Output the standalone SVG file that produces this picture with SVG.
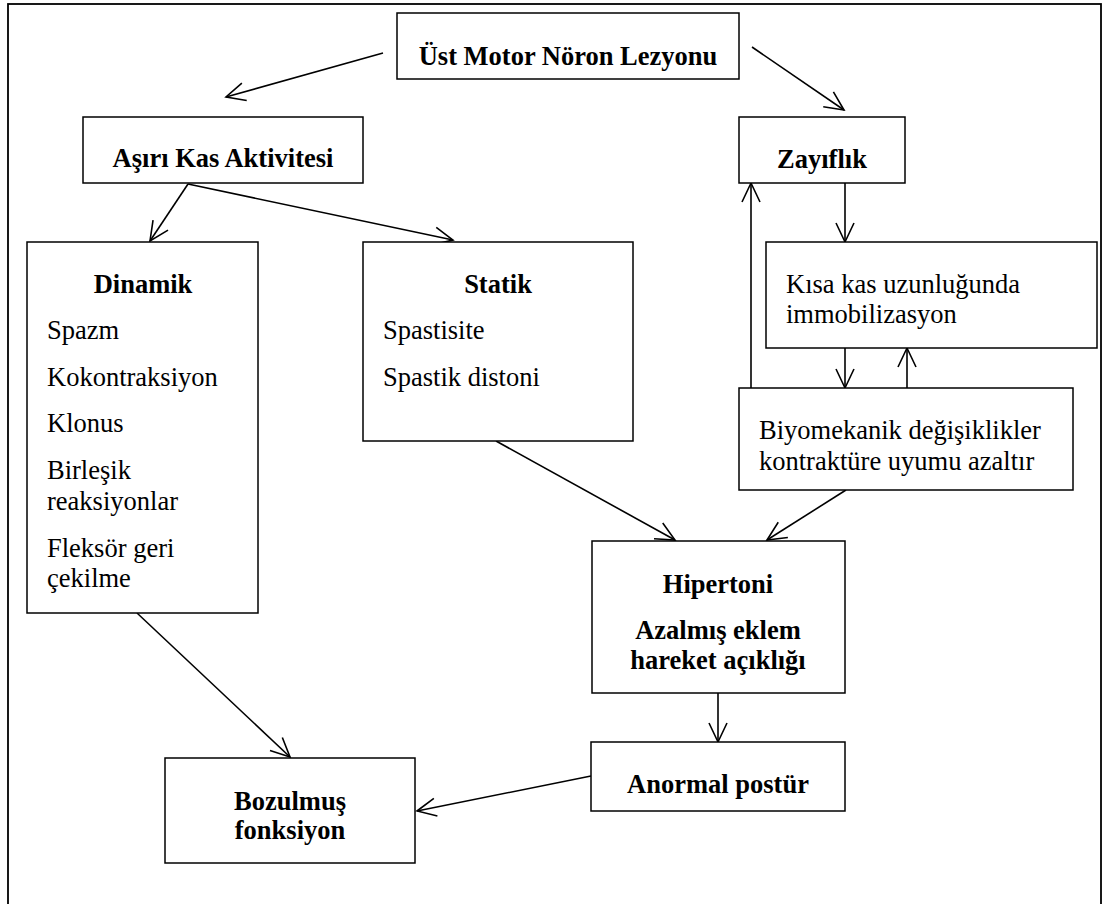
<svg xmlns="http://www.w3.org/2000/svg" width="1105" height="904" viewBox="0 0 1105 904">
<style>
.box{fill:#fff;stroke:#000;stroke-width:1.5}
.b{font-family:'Liberation Serif',serif;font-weight:bold;font-size:26.5px;text-anchor:middle;fill:#000}
.r{font-family:'Liberation Serif',serif;font-size:26.5px;fill:#000}
.c line{stroke:#000;stroke-width:1.6;marker-end:url(#ah)}
</style>
<defs>
<marker id="ah" markerUnits="userSpaceOnUse" markerWidth="24" markerHeight="24" viewBox="-22 -12 24 24" refX="0" refY="0" orient="auto" overflow="visible">
<path d="M-19,-9 L0,0 L-19,9" fill="none" stroke="#000" stroke-width="1.6"/>
</marker>
</defs>
<rect x="8" y="4" width="1093" height="920" fill="#fff" stroke="#000" stroke-width="1.8"/>
<g class="c">
<line x1="383" y1="53" x2="226" y2="97"/>
<line x1="752" y1="47" x2="844" y2="110"/>
<line x1="188" y1="184" x2="150" y2="241"/>
<line x1="188" y1="184" x2="453" y2="240"/>
<line x1="845" y1="183" x2="845" y2="242"/>
<line x1="751" y1="388" x2="751" y2="183"/>
<line x1="845" y1="348" x2="845" y2="388"/>
<line x1="907" y1="388" x2="907" y2="348"/>
<line x1="496" y1="441" x2="675" y2="540"/>
<line x1="846" y1="490" x2="767" y2="540"/>
<line x1="137" y1="613" x2="290" y2="757"/>
<line x1="718" y1="693" x2="718" y2="742"/>
<line x1="591" y1="776" x2="417" y2="811"/>
</g>
<g id="ust">
<rect class="box" x="397" y="13" width="342" height="66"/>
<text class="b" font-family="Liberation Serif" x="568" y="65">Üst Motor Nöron Lezyonu</text>
</g>
<g id="asiri">
<rect class="box" x="83" y="117" width="280" height="66"/>
<text class="b" font-family="Liberation Serif" x="223" y="167">Aşırı Kas Aktivitesi</text>
</g>
<g id="zayiflik">
<rect class="box" x="739" y="117" width="166" height="66"/>
<text class="b" font-family="Liberation Serif" x="822" y="168">Zayıflık</text>
</g>
<g id="kisa">
<rect class="box" x="766" y="242" width="331" height="106"/>
<text class="r" font-family="Liberation Serif" x="786" y="293">Kısa kas uzunluğunda</text>
<text class="r" font-family="Liberation Serif" x="786" y="323">immobilizasyon</text>
</g>
<g id="biyomekanik">
<rect class="box" x="739" y="388" width="334" height="102"/>
<text class="r" font-family="Liberation Serif" x="759" y="439">Biyomekanik değişiklikler</text>
<text class="r" font-family="Liberation Serif" x="759" y="470">kontraktüre uyumu azaltır</text>
</g>
<g id="dinamik">
<rect class="box" x="27" y="242" width="231" height="371"/>
<text class="b" font-family="Liberation Serif" x="143" y="293">Dinamik</text>
<text class="r" font-family="Liberation Serif" x="47" y="339">Spazm</text>
<text class="r" font-family="Liberation Serif" x="47" y="386">Kokontraksiyon</text>
<text class="r" font-family="Liberation Serif" x="47" y="432">Klonus</text>
<text class="r" font-family="Liberation Serif" x="47" y="479">Birleşik</text>
<text class="r" font-family="Liberation Serif" x="47" y="510">reaksiyonlar</text>
<text class="r" font-family="Liberation Serif" x="47" y="557">Fleksör geri</text>
<text class="r" font-family="Liberation Serif" x="47" y="587">çekilme</text>
</g>
<g id="statik">
<rect class="box" x="363" y="242" width="270" height="199"/>
<text class="b" font-family="Liberation Serif" x="498" y="293">Statik</text>
<text class="r" font-family="Liberation Serif" x="383" y="339">Spastisite</text>
<text class="r" font-family="Liberation Serif" x="383" y="386">Spastik distoni</text>
</g>
<g id="hipertoni">
<rect class="box" x="592" y="541" width="253" height="152"/>
<text class="b" font-family="Liberation Serif" x="718" y="593">Hipertoni</text>
<text class="b" font-family="Liberation Serif" x="718" y="639">Azalmış eklem</text>
<text class="b" font-family="Liberation Serif" x="718" y="669">hareket açıklığı</text>
</g>
<g id="anormal">
<rect class="box" x="591" y="742" width="254" height="69"/>
<text class="b" font-family="Liberation Serif" x="718" y="793">Anormal postür</text>
</g>
<g id="bozulmus">
<rect class="box" x="165" y="758" width="250" height="105"/>
<text class="b" font-family="Liberation Serif" x="290" y="810">Bozulmuş</text>
<text class="b" font-family="Liberation Serif" x="290" y="839">fonksiyon</text>
</g>
</svg>
